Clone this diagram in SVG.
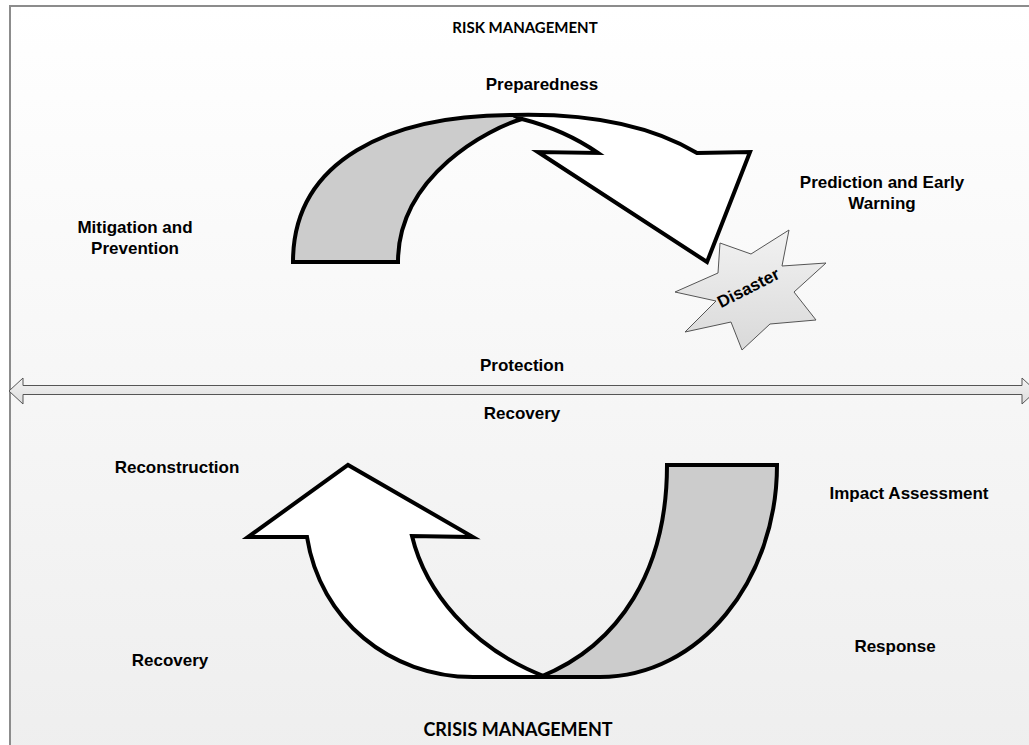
<svg xmlns="http://www.w3.org/2000/svg" width="1029" height="745" viewBox="0 0 1029 745">
<defs>
<linearGradient id="bg" x1="0" y1="0" x2="0" y2="1">
<stop offset="0" stop-color="#ffffff"/>
<stop offset="1" stop-color="#eeeeee"/>
</linearGradient>
<linearGradient id="starg" x1="0" y1="0" x2="0" y2="1">
<stop offset="0" stop-color="#f2f2f2"/>
<stop offset="1" stop-color="#d9d9d9"/>
</linearGradient>
<linearGradient id="barg" x1="0" y1="0" x2="0" y2="1">
<stop offset="0" stop-color="#f4f4f4"/>
<stop offset="1" stop-color="#dcdcdc"/>
</linearGradient>
<style>
.lbl{font-family:"Liberation Sans",Arial,sans-serif;font-weight:bold;font-size:17px;fill:#000;text-anchor:middle}
.ttl{font-family:Lato,"Open Sans",sans-serif;font-weight:bold;fill:#000;text-anchor:middle}
.arw{stroke:#000;stroke-width:4;stroke-linejoin:miter}
.gray{fill:#cccccc}
.white{fill:#ffffff}
</style>
</defs>
<rect x="10" y="6" width="1040" height="760" fill="url(#bg)" stroke="#8c8c8c" stroke-width="2"/>

<g id="connectors">
<path id="protection-recovery" d="M9,391 L23,378 L23,385.5 L1022,385.5 L1022,378 L1036,391 L1022,404 L1022,394.5 L23,394.5 L23,404 Z" fill="url(#barg)" stroke="#555" stroke-width="1"/>
</g>

<g id="risk-cycle">
<path class="arw gray" d="M293,262 C293,160 390,115 513,115 L522,119 C490,128 398,175 398,262 Z"/>
<path class="arw white" d="M513,115 C590,113 650,125 697,153 L750,152 L707,262 L538,152 L598,153 Q565,130 522,119 Z"/>
</g>

<g id="crisis-cycle">
<path class="arw white" d="M546,677 C470,648 425,590 412,536 L473,537 L348,465 L248,537 L307,537 C320,620 390,677 473,677 Z"/>
<path class="arw gray" d="M667,465 L777,465 C777,580 700,677 600,677 L540,677 C620,645 667,570 667,465 Z"/>
</g>

<g id="disaster">
<polygon points="720,243 751,254 789,230 782,266 826,263 794,292 816,320 770,324 742,350 731,322 685,332 716,301 675,292 718,273" fill="url(#starg)" stroke="#555" stroke-width="1"/>
<text class="lbl" x="0" y="0" font-size="15" transform="translate(751,293) rotate(-27)">Disaster</text>
</g>

<g id="titles">
<text class="ttl" x="525" y="33" font-size="15">RISK MANAGEMENT</text>
<text class="ttl" x="518" y="736" font-size="18">CRISIS MANAGEMENT</text>
</g>

<g id="labels">
<text class="lbl" x="542" y="90">Preparedness</text>
<text class="lbl" x="882" y="188">Prediction and Early</text>
<text class="lbl" x="882" y="209">Warning</text>
<text class="lbl" x="135" y="233">Mitigation and</text>
<text class="lbl" x="135" y="254">Prevention</text>
<text class="lbl" x="522" y="371">Protection</text>
<text class="lbl" x="522" y="419">Recovery</text>
<text class="lbl" x="177" y="473">Reconstruction</text>
<text class="lbl" x="909" y="499">Impact Assessment</text>
<text class="lbl" x="895" y="652">Response</text>
<text class="lbl" x="170" y="666">Recovery</text>
</g>
</svg>
